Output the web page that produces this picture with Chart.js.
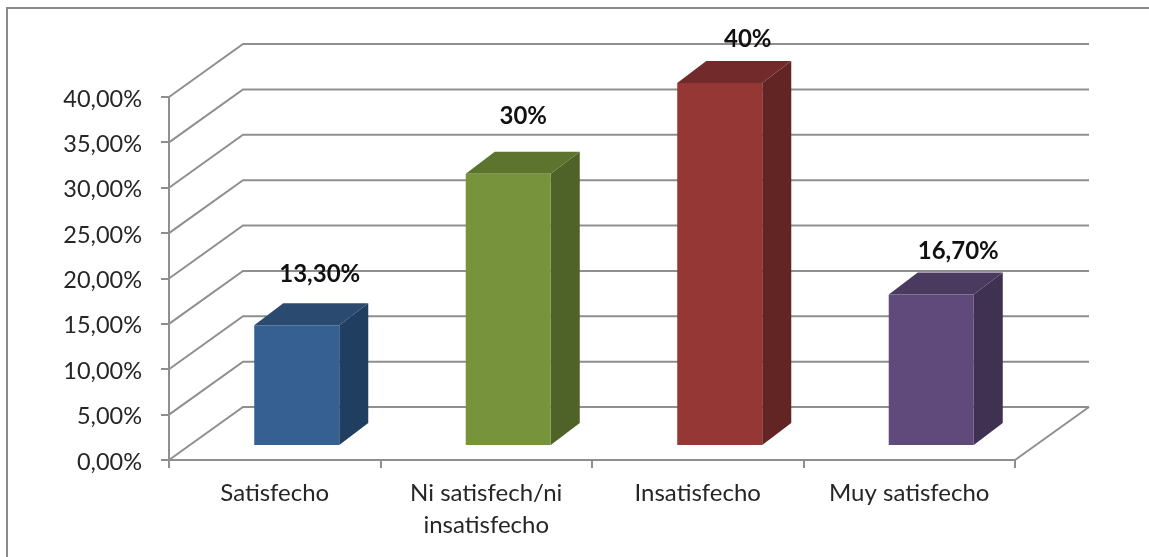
<!DOCTYPE html>
<html>
<head>
<meta charset="utf-8">
<title>Satisfacción</title>
<script src="https://cdn.jsdelivr.net/npm/chart.js@4/dist/chart.umd.min.js"></script>
<style>
  html, body { margin: 0; padding: 0; background: #fff; overflow: hidden; }
  #frame { position: absolute; left: 6px; top: 7px; width: 1143px; height: 550px; border-left: 2px solid #8a8a8a; border-top: 2px solid #8a8a8a; box-sizing: border-box; }
  canvas { position: absolute; left: 0; top: 0; }
</style>
</head>
<body>
<div id="frame"></div>
<canvas id="chart" width="1149" height="557"></canvas>
<script>
const categories = ['Satisfecho', ['Ni satisfech/ni', 'insatisfecho'], 'Insatisfecho', 'Muy satisfecho'];
const values = [13.3, 30, 40, 16.7];
const valueLabels = ['13,30%', '30%', '40%', '16,70%'];
const frontColors = ['#376092', '#77933c', '#953735', '#604a7b'];
const topColors = ['#2b4a70', '#5d742f', '#722b2a', '#4a3a60'];
const sideColors = ['#203e5f', '#4f6228', '#632523', '#3f3151'];

const FONT = 'Lato, "Open Sans", sans-serif';
const GRID = '#8f8f8f';
// 3D offsets: back wall, bar front plane, bar depth
const WALL = { x: 74, y: -53 };
const BAR_SHIFT = { x: 22, y: -14 };
const BAR_DEPTH = { x: 29, y: -22 };
// labels were dragged by hand in the original, so each has its own nudge from the bar top
const LABEL_NUDGE = [[45, -65], [37, -71], [50, -58], [49, -57]];

function poly(ctx, pts, fill) {
  ctx.beginPath();
  pts.forEach(([x, y], i) => (i ? ctx.lineTo(x, y) : ctx.moveTo(x, y)));
  ctx.closePath();
  ctx.fillStyle = fill;
  ctx.fill();
}

const fake3d = {
  id: 'fake3d',
  beforeDatasetsDraw(chart) {
    const { ctx, chartArea: a, scales: { y } } = chart;
    ctx.save();
    ctx.strokeStyle = GRID;
    ctx.lineWidth = 2;
    y.ticks.forEach((t) => {
      const py = y.getPixelForValue(t.value);
      ctx.beginPath();
      ctx.moveTo(a.left, py);
      ctx.lineTo(a.left + WALL.x, py + WALL.y);
      ctx.lineTo(a.right + WALL.x, py + WALL.y);
      ctx.stroke();
    });
    // right edge of the floor
    const py0 = y.getPixelForValue(0);
    ctx.beginPath();
    ctx.moveTo(a.right + WALL.x, py0 + WALL.y);
    ctx.lineTo(a.right, py0);
    ctx.stroke();
    ctx.restore();

    // shift the bars back onto the floor, side and top faces first
    ctx.save();
    ctx.translate(BAR_SHIFT.x, BAR_SHIFT.y);
    chart.getDatasetMeta(0).data.forEach((bar, i) => {
      const l = bar.x - bar.width / 2, r = bar.x + bar.width / 2;
      poly(ctx, [[r, bar.y], [r + BAR_DEPTH.x, bar.y + BAR_DEPTH.y], [r + BAR_DEPTH.x, bar.base + BAR_DEPTH.y], [r, bar.base]], sideColors[i]);
      poly(ctx, [[l, bar.y], [l + BAR_DEPTH.x, bar.y + BAR_DEPTH.y], [r + BAR_DEPTH.x, bar.y + BAR_DEPTH.y], [r, bar.y]], topColors[i]);
    });
  },
  afterDatasetsDraw(chart) {
    const { ctx } = chart;
    ctx.restore();
    ctx.save();
    ctx.font = 'bold 24px ' + FONT;
    ctx.fillStyle = '#111';
    ctx.textAlign = 'center';
    ctx.textBaseline = 'middle';
    chart.getDatasetMeta(0).data.forEach((bar, i) => {
      ctx.fillText(valueLabels[i], bar.x + LABEL_NUDGE[i][0], bar.y + LABEL_NUDGE[i][1]);
    });
    ctx.restore();
  },
};

new Chart(document.getElementById('chart'), {
  type: 'bar',
  data: {
    labels: categories,
    datasets: [{ data: values, backgroundColor: frontColors, barPercentage: 0.402, categoryPercentage: 1 }],
  },
  plugins: [fake3d],
  options: {
    responsive: false,
    animation: false,
    layout: { padding: { top: 97, right: 134, left: 0, bottom: 0 } },
    plugins: { legend: { display: false }, tooltip: { enabled: false }, title: { display: false } },
    scales: {
      x: {
        offset: true,
        afterFit: (s) => { s.height = 97; },
        border: { color: GRID, width: 2 },
        grid: { offset: true, drawOnChartArea: false, color: GRID, lineWidth: 2, tickLength: 8 },
        ticks: { color: '#262626', font: { family: FONT, size: 24, lineHeight: 1.33 }, padding: 9, maxRotation: 0, autoSkip: false },
      },
      y: {
        min: 0,
        max: 40,
        afterFit: (s) => { s.width = 169; },
        border: { color: GRID, width: 2 },
        grid: { drawOnChartArea: false, color: GRID, lineWidth: 2, tickLength: 8 },
        ticks: { stepSize: 5, color: '#262626', font: { family: FONT, size: 23.5 }, padding: 19, labelOffset: 2, callback: (v) => v.toFixed(2).replace('.', ',') + '%' },
      },
    },
  },
});
</script>
</body>
</html>
